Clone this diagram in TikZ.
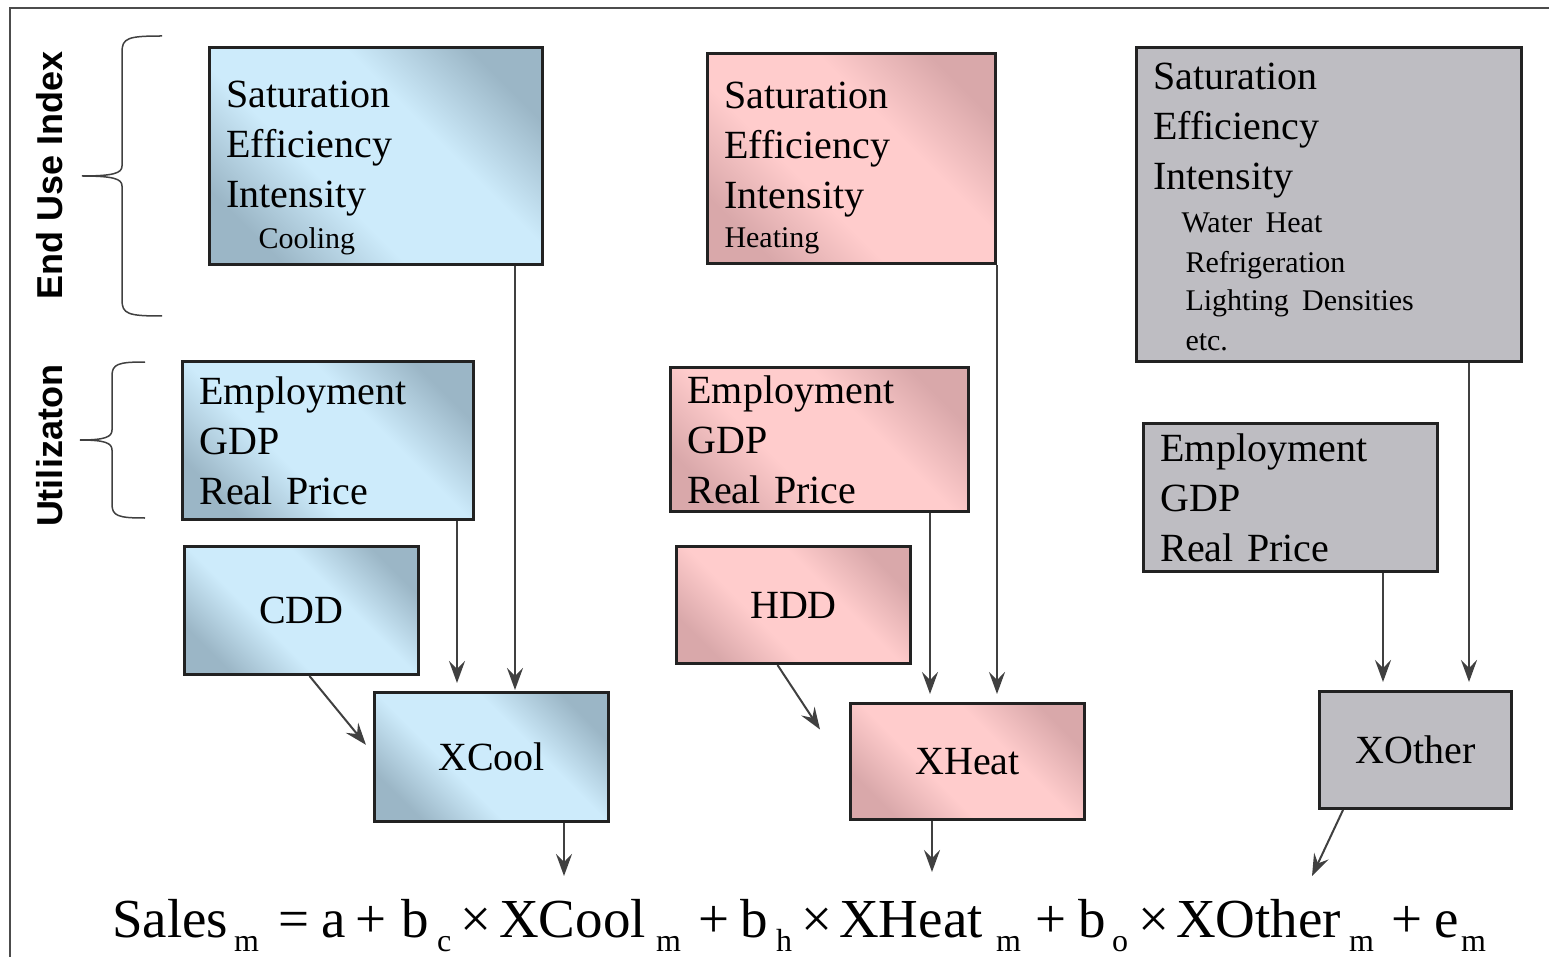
\documentclass[tikz,border=0pt]{standalone}
\usepackage{fontspec}
\setmainfont{Liberation Serif}
\newfontfamily\sidefont{Liberation Sans}
\usetikzlibrary{arrows.meta,calc,positioning}

\definecolor{blueL}{HTML}{CDEBFB}
\definecolor{blueD}{HTML}{9BB6C6}
\definecolor{pinkL}{HTML}{FFCCCC}
\definecolor{pinkD}{HTML}{D9A8AA}
\definecolor{greyF}{HTML}{BEBDC2}
\definecolor{boxline}{HTML}{222222}
\definecolor{arrline}{HTML}{404040}

\pgfdeclareverticalshading{blueshade}{100bp}{color(0bp)=(blueD); color(24bp)=(blueD);
  color(40bp)=(blueL); color(60bp)=(blueL); color(76bp)=(blueD); color(100bp)=(blueD)}
\pgfdeclareverticalshading{pinkshade}{100bp}{color(0bp)=(pinkD); color(24bp)=(pinkD);
  color(40bp)=(pinkL); color(60bp)=(pinkL); color(76bp)=(pinkD); color(100bp)=(pinkD)}

\newcommand{\sm}{\fontsize{30}{40}\selectfont}

\tikzset{
  box/.style={draw=boxline, line width=3pt, anchor=north west, inner xsep=17pt, inner ysep=0pt,
    align=left, font=\fontsize{40}{50}\selectfont},
  bluebox/.style={box, shading=blueshade, shading angle=-45},
  pinkbox/.style={box, shading=pinkshade, shading angle=-45},
  greybox/.style={box, fill=greyF},
  arr/.style={draw=arrline, line width=2pt, -{Stealth[length=22pt,width=16pt,inset=8pt]}, shorten >=8pt},
  brc/.style={draw=arrline, line width=1.5pt},
  sidelabel/.style={rotate=90, font=\sidefont\bfseries\fontsize{36}{36}\selectfont},
  eqtext/.style={anchor=base west, inner sep=0pt, font=\fontsize{55}{55}\selectfont},
  eqsub/.style={anchor=base west, inner sep=0pt, font=\fontsize{32}{32}\selectfont}
}

\begin{document}
\begin{tikzpicture}[x=1pt, y=-1pt]
  \useasboundingbox (0,0) rectangle (1549,957);
  \draw[draw=black!70, line width=2pt] (10,957) -- (10,8) -- (1549,8);

  % side labels and braces
  \node[sidelabel] (eui) at (50,175) {End Use Index};
  \node[sidelabel] (util) at (50,446) {Utilizaton};
  \draw[brc] (162,36) .. controls (128,36) and (122,38) .. (122,52) -- (122,166)
    .. controls (122,173) and (114,176) .. (82,176) .. controls (114,176) and (122,179) .. (122,186)
    -- (122,300) .. controls (122,314) and (128,316) .. (162,316);
  \draw[brc] (145,362) .. controls (118,362) and (112,364) .. (112,376) -- (112,430)
    .. controls (112,437) and (105,440) .. (80,440) .. controls (105,440) and (112,443) .. (112,450)
    -- (112,504) .. controls (112,516) and (118,518) .. (145,518);

  % cooling column
  \node[bluebox, text width=299pt, minimum height=217pt] (coolE) at (208,46)
    {\rule{0pt}{50pt}Saturation\\Efficiency\\Intensity\\[-9pt]{\sm\hspace*{32pt}Cooling}};
  \node[bluebox, text width=257pt, minimum height=158pt] (coolU) at (181,360)
    {Employment\\GDP\\Real Price};
  \node[bluebox, align=center, text width=200pt, minimum height=128pt] (cdd) at (183,545) {CDD};
  \node[bluebox, align=center, text width=200pt, minimum height=129pt] (xcool) at (373,691) {XCool};

  % heating column
  \node[pinkbox, text width=254pt, minimum height=210pt] (heatE) at (706,52)
    {\rule{0pt}{45pt}Saturation\\Efficiency\\Intensity\\[-11pt]{\sm Heating}};
  \node[pinkbox, text width=264pt, minimum height=144pt] (heatU) at (669,366)
    {Employment\\GDP\\Real Price};
  \node[pinkbox, align=center, text width=200pt, minimum height=117pt] (hdd) at (675,545) {HDD};
  \node[pinkbox, align=center, text width=200pt, minimum height=116pt] (xheat) at (849,702) {XHeat};

  % other column
  \node[greybox, text width=351pt, minimum height=314pt] (otherE) at (1135,46)
    {\rule{0pt}{31pt}Saturation\\Efficiency\\Intensity\\[3pt]\sm\hspace*{28pt}Water Heat\\
     \hspace*{32pt}Refrigeration\\[-2pt]\hspace*{32pt}Lighting Densities\\[-10pt]\hspace*{32pt}etc.};
  \node[greybox, text width=260pt, minimum height=148pt] (otherU) at (1142,422)
    {Employment\\GDP\\Real Price};
  \node[greybox, align=center, text width=158pt, minimum height=117pt] (xother) at (1318,690) {XOther};

  % equation
  \foreach \x/\t [count=\i] in {112/Sales, 278/=, 321/a, 355/+, 401/b, 460/×, 499/XCool, 698/+,
      740/b, 801/×, 839/XHeat, 1035/+, 1078/b, 1138/×, 1176/XOther, 1391/+, 1434/e}
    \node[eqtext] (eq\i) at (\x,937) {\t};
  \foreach \x/\t [count=\i] in {234/m, 437/c, 656/m, 776/h, 996/m, 1112/o, 1349/m, 1461/m}
    \node[eqsub] (sub\i) at (\x,951) {\t};
  \coordinate (toC) at (564,876);
  \coordinate (toH) at (932,872);
  \coordinate (toO) at (1312,876);

  % connectors
  \draw[arr, shorten >=1pt] (coolE.south -| 515,0) -- (xcool.north -| 515,0);
  \draw[arr] (coolU.south -| 457,0) -- (xcool.north -| 457,0);
  \draw[arr] ($(cdd.south)+(8,0)$) -- ($(xcool.west)+(-2,-6)$);
  \draw[arr] (heatE.south east) -- (xheat.north -| heatE.south east);
  \draw[arr] (heatU.south -| 930,0) -- (xheat.north -| 930,0);
  \draw[arr, shorten >=0pt] ($(hdd.south)+(-16,0)$) -- ($(xheat.west)+(-29,-32)$);
  \draw[arr] (otherE.south -| 1469,0) -- (xother.north -| 1469,0);
  \draw[arr] (otherU.south -| 1383,0) -- (xother.north -| 1383,0);
  \draw[arr, shorten >=0pt] (xcool.south -| toC) -- (toC);
  \draw[arr, shorten >=0pt] (xheat.south -| toH) -- (toH);
  \draw[arr, shorten >=0pt] (xother.south -| 1343,0) -- (toO);
\end{tikzpicture}
\end{document}
